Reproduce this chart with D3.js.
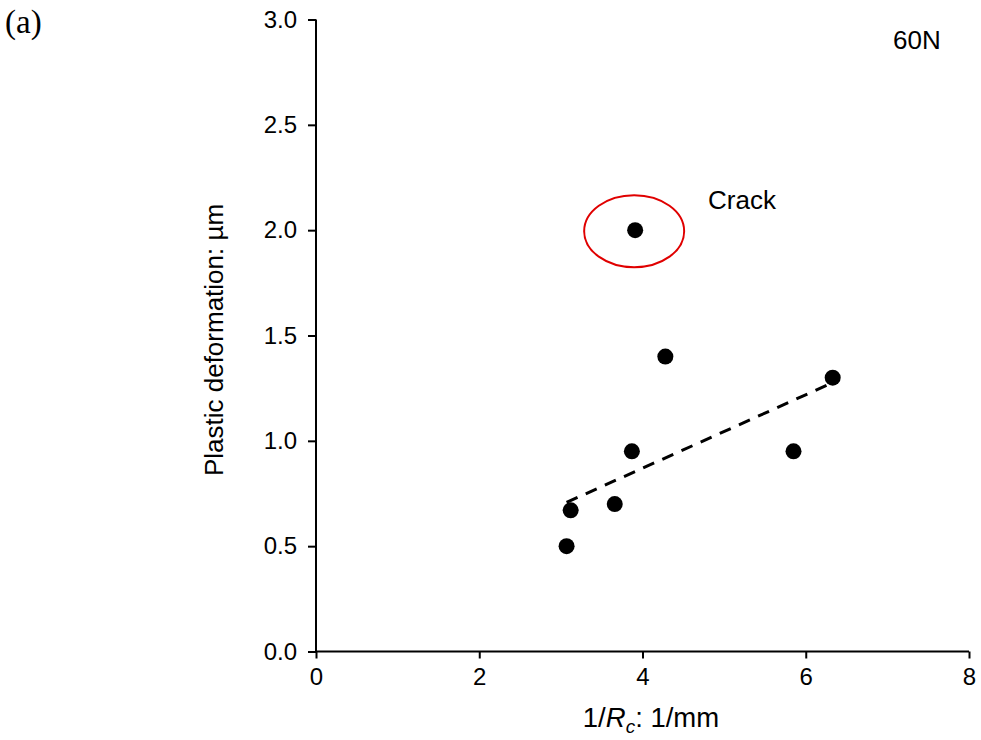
<!DOCTYPE html>
<html>
<head>
<meta charset="utf-8">
<script src="https://cdn.jsdelivr.net/npm/d3@7"></script>
<style>
  body { margin: 0; background: #fff; }
  svg text { font-family: "Liberation Sans", Arial, sans-serif; }
</style>
</head>
<body>
<svg id="chart" width="981" height="740"></svg>
<script>
// measured points: 1/Rc (1/mm) vs plastic deformation (um), 60N
const curvature = [3.07, 3.12, 3.66, 3.87, 3.91, 4.28, 5.85, 6.33];
const deformation = [0.50, 0.67, 0.70, 0.95, 2.00, 1.40, 0.95, 1.30];
const cracked = [false, false, false, false, true, false, false, false];
const xTicks = [0, 2, 4, 6, 8];
const yTicks = [0, 0.5, 1.0, 1.5, 2.0, 2.5, 3.0];

const svg = d3.select("#chart");
const x = d3.scaleLinear().domain([0, 8]).range([316, 969]);
const y = d3.scaleLinear().domain([0, 3]).range([651.5, 19.5]);

const pts = curvature.map((c, i) => ({ x: c, y: deformation[i], crack: cracked[i] }));

// axes
const yAxis = svg.append("g")
  .attr("transform", `translate(${x(0)},0)`)
  .call(d3.axisLeft(y).tickValues(yTicks).tickFormat(d3.format(".1f")).tickSize(8).tickPadding(11));
const xAxis = svg.append("g")
  .attr("transform", `translate(0,${y(0)})`)
  .call(d3.axisBottom(x).tickValues(xTicks).tickFormat(d3.format("d")).tickSize(7).tickPadding(9));

[xAxis, yAxis].forEach(g => {
  g.select(".domain").attr("stroke", "#000").attr("stroke-width", 2);
  g.selectAll(".tick line").attr("stroke", "#000").attr("stroke-width", 2);
  g.selectAll(".tick text").attr("fill", "#000")
    .attr("font-size", 24).attr("font-family", "Liberation Sans, Arial, sans-serif");
});
yAxis.select(".domain").attr("d", `M0,${y(3)}V${y(0)}`);
xAxis.select(".domain").attr("d", `M${x(0)},0H${x(8)}`);

// linear trend over non-crack points
const fit = pts.filter(p => !p.crack);
const mx = d3.mean(fit, p => p.x), my = d3.mean(fit, p => p.y);
const slope = d3.sum(fit, p => (p.x - mx) * (p.y - my)) / d3.sum(fit, p => (p.x - mx) ** 2);
const x0 = d3.min(fit, p => p.x), x1 = d3.max(fit, p => p.x);
const trend = [[x0, my + slope * (x0 - mx)], [x1, my + slope * (x1 - mx)]];

svg.append("path")
  .attr("d", d3.line().x(d => x(d[0])).y(d => y(d[1]))(trend))
  .attr("stroke", "#000").attr("stroke-width", 3).attr("fill", "none")
  .attr("stroke-dasharray", "12,9");

svg.append("g").selectAll("circle").data(pts).join("circle")
  .attr("cx", d => x(d.x)).attr("cy", d => y(d.y)).attr("r", 8).attr("fill", "#000");

// red ring around cracked specimen
const crackPt = pts.find(p => p.crack);
svg.append("ellipse")
  .attr("cx", x(crackPt.x) - 1).attr("cy", y(crackPt.y) + 1)
  .attr("rx", 50).attr("ry", 36)
  .attr("fill", "none").attr("stroke", "#e00000").attr("stroke-width", 2);

svg.append("text").attr("x", 708).attr("y", 209).attr("font-size", 26).text("Crack");
svg.append("text").attr("x", 893).attr("y", 49).attr("font-size", 26).text("60N");

svg.append("text").attr("x", 5).attr("y", 33)
  .style("font-family", "'Liberation Serif', 'Times New Roman', serif").style("font-size", "33px").text("(a)");

// axis titles
const xt = svg.append("text").attr("x", 651).attr("y", 727).attr("text-anchor", "middle").attr("font-size", 27.5);
xt.append("tspan").text("1/");
xt.append("tspan").attr("font-style", "italic").text("R");
xt.append("tspan").attr("font-style", "italic").attr("font-size", 19).attr("dy", 6).text("c");
xt.append("tspan").attr("dy", -6).text(": 1/mm");

svg.append("text")
  .attr("transform", `translate(223,340) rotate(-90)`)
  .attr("text-anchor", "middle").attr("font-size", 26)
  .text("Plastic deformation: \u00b5m");
</script>
</body>
</html>
